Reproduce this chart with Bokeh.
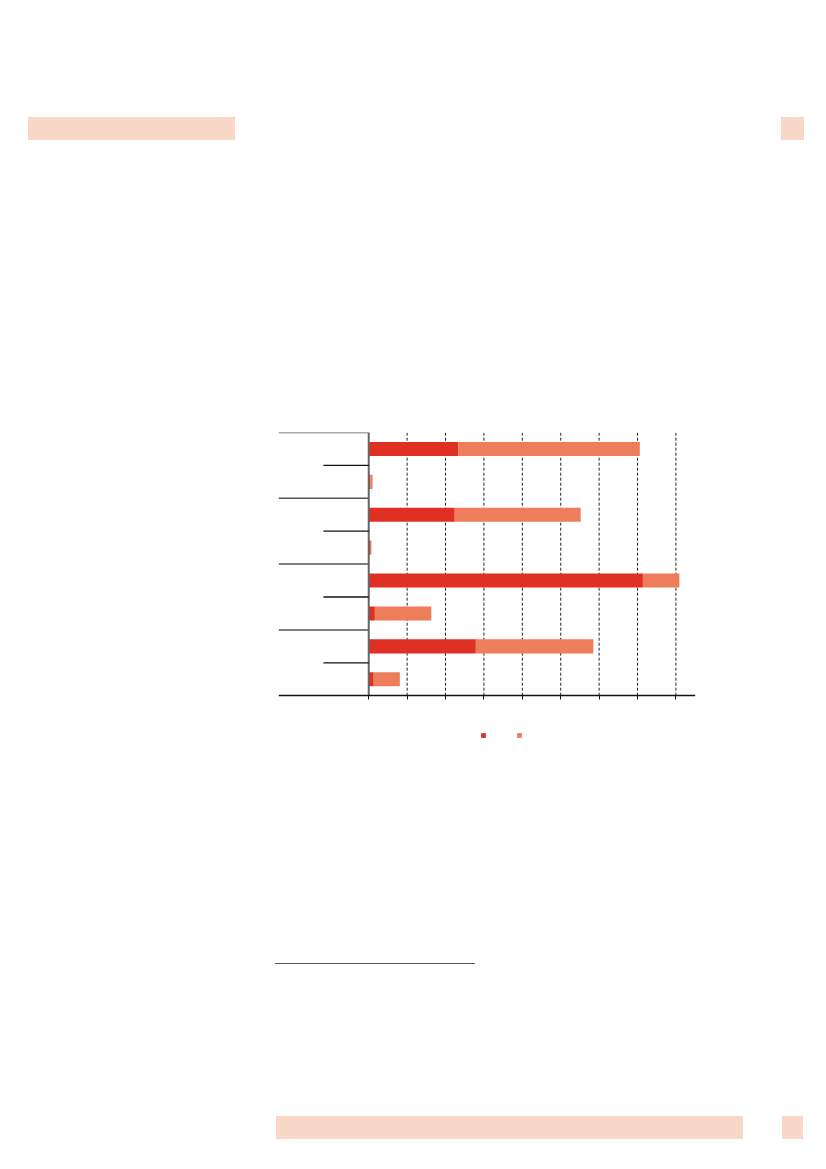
from bokeh.plotting import figure
from bokeh.models import (Range1d, LinearAxis, FixedTicker, Div,
                          Legend, LegendItem, ColumnDataSource, CustomJSTickFormatter)
from bokeh.layouts import column
from bokeh.embed import file_html
from bokeh.resources import INLINE

# ---- data ----
rows = ["g1a", "g1b", "g2a", "g2b", "g3a", "g3b", "g4a", "g4b"]
red_vals = [23.3, 0.4, 22.4, 0.5, 71.4, 1.6, 27.9, 1.3]
orange_vals = [47.3, 0.6, 32.8, 0.2, 9.5, 14.7, 30.6, 6.8]
x_ticks = [0, 10, 20, 30, 40, 50, 60, 70, 80]
grid_ticks = [10, 20, 30, 40, 50, 60, 70, 80]

RED = "#E03024"
ORANGE = "#EE7D5B"
BAND = "#F8D7C6"

n = len(rows)
ypos = [n - i - 0.5 for i in range(n)]
totals = [r + o for r, o in zip(red_vals, orange_vals)]
src = ColumnDataSource(dict(y=ypos, red=red_vals, total=totals))

W = 826
TOP_H = 400
FIG_H = 381
BOT_H = 385
X0, X1 = -23.5, 85.1
Y0, Y1 = -2.0, float(n)

p = figure(width=W, height=FIG_H, output_backend="svg", toolbar_location=None,
           x_axis_type=None, y_axis_type=None,
           x_range=Range1d(X0, X1), y_range=Range1d(Y0, Y1),
           min_border_left=278, min_border_right=131, min_border_top=32,
           min_border_bottom=20, margin=0)
p.outline_line_color = None
p.background_fill_color = "white"
p.border_fill_color = "white"
p.xgrid.visible = False
p.ygrid.visible = False

# dashed vertical grid lines, only over the bar area
p.segment(x0=grid_ticks, x1=grid_ticks, y0=[0] * len(grid_ticks), y1=[n] * len(grid_ticks),
          line_color="#222222", line_dash="3 2", line_width=1)

# bars
r_red = p.hbar(y="y", left=0, right="red", height=0.43, source=src,
               fill_color=RED, line_color=None)
r_or = p.hbar(y="y", left="red", right="total", height=0.43, source=src,
              fill_color=ORANGE, line_color=None)

# vertical axis line at zero
p.segment(x0=[0], x1=[0], y0=[0], y1=[n], line_color="#666666", line_width=2)

# category separators (full between groups, short within groups)
group_edges = [float(k) for k in range(2, n + 1, 2)]
half_edges = [float(k) for k in range(1, n, 2)]
p.segment(x0=[X0] * len(group_edges), x1=[0] * len(group_edges),
          y0=group_edges, y1=group_edges, line_color="#555555", line_width=1.5)
p.segment(x0=[-11.8] * len(half_edges), x1=[0] * len(half_edges),
          y0=half_edges, y1=half_edges, line_color="#111111", line_width=1.3)

# bottom axis, fixed at y = 0
xaxis = LinearAxis(ticker=FixedTicker(ticks=x_ticks), fixed_location=0,
                   formatter=CustomJSTickFormatter(code="return ''"),
                   axis_line_color="#111111", axis_line_width=1.4,
                   major_tick_line_color="#111111", major_tick_out=4, major_tick_in=0,
                   minor_tick_line_color=None, major_label_text_font_size="1px",
                   major_label_standoff=0)
p.add_layout(xaxis, "below")

# legend (below the axis, drawn from the bar renderers)
legend = Legend(items=[LegendItem(label=" ", renderers=[r_red]),
                       LegendItem(label=" ", renderers=[r_or])],
                orientation="horizontal", glyph_width=6, glyph_height=6,
                label_width=0, label_height=6, label_standoff=0, spacing=30,
                padding=0, margin=0, border_line_color=None,
                background_fill_alpha=0, label_text_font_size="1px",
                location=(202, 23))
p.add_layout(legend, "center")


def band(l, t, w, h, color=BAND):
    return (f'<div style="position:absolute;left:{l}px;top:{t}px;width:{w}px;'
            f'height:{h}px;background:{color};"></div>')


top_div = Div(width=W, height=TOP_H, margin=0, text=(
    f'<div style="position:relative;width:{W}px;height:{TOP_H}px;">'
    + band(28, 117, 207, 23) + band(781, 117, 23, 23) + '</div>'))

bot_off = TOP_H + FIG_H
bot_div = Div(width=W, height=BOT_H, margin=0, text=(
    f'<div style="position:relative;width:{W}px;height:{BOT_H}px;">'
    + band(275, 963 - bot_off, 200, 1.3, "#555555")
    + band(276, 1116 - bot_off, 467, 23) + band(782, 1116 - bot_off, 21, 23)
    + '</div>'))

layout = column(top_div, p, bot_div, spacing=0, margin=0)
open("out.html", "w").write(file_html(layout, INLINE))
